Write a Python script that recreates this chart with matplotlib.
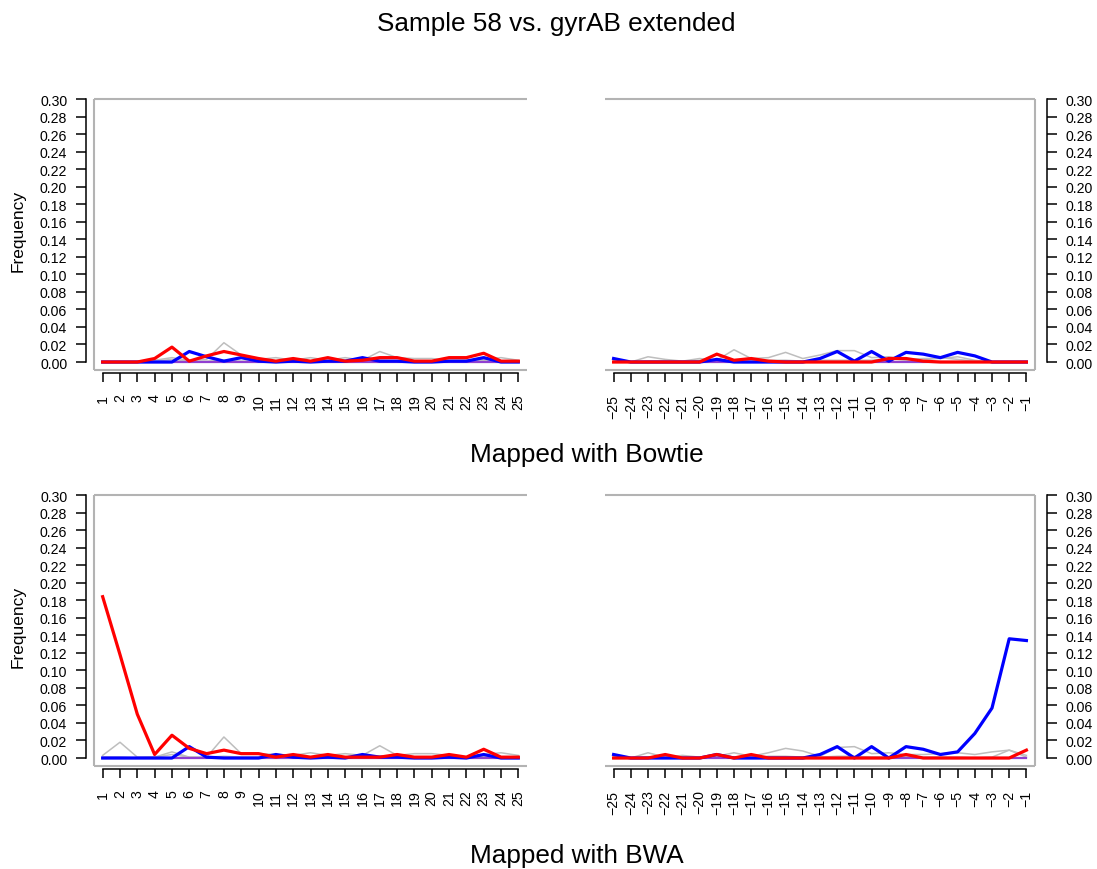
import numpy as np
import matplotlib
matplotlib.use('Agg')
import matplotlib.pyplot as plt

plt.rcParams['font.family'] = ['Liberation Sans', 'DejaVu Sans']

# vi tri doc (5' va 3')
pos_5p = list(range(1, 26))
pos_3p = list(range(-25, 0))
nhan_5p = [str(i) for i in pos_5p]
nhan_3p = ['\u2212' + str(-i) for i in pos_3p]

# Bowtie - dau 5'
bt5_ct = [0, 0, 0, 0.004, 0.017, 0.001, 0.007, 0.012, 0.008, 0.004, 0.001, 0.004, 0.001,
          0.005, 0.001, 0.002, 0.005, 0.005, 0.001, 0.001, 0.005, 0.005, 0.010, 0.001, 0.001]
bt5_ga = [0, 0, 0, 0, 0, 0.012, 0.006, 0.001, 0.005, 0.001, 0, 0.001, 0,
          0.001, 0.001, 0.005, 0.001, 0.001, 0, 0, 0.001, 0.001, 0.005, 0, 0]
bt5_khac1 = [0, 0, 0, 0.002, 0.005, 0.002, 0.003, 0.022, 0.008, 0.003, 0.005, 0.002, 0.005,
             0.002, 0.005, 0.002, 0.012, 0.005, 0.004, 0.004, 0.002, 0.002, 0.003, 0.005, 0.002]
bt5_khac2 = [0, 0, 0, 0.001, 0.003, 0.001, 0.001, 0.002, 0.001, 0.001, 0.001, 0.001, 0.001,
             0.001, 0.001, 0.001, 0.002, 0.001, 0.001, 0.001, 0.001, 0.001, 0.002, 0.001, 0.001]
bt5_indel = [0] * 25

# Bowtie - dau 3'
bt3_ct = [0, 0, 0, 0, 0, 0, 0.009, 0.002, 0.004, 0.001, 0, 0, 0,
          0, 0, 0, 0.004, 0.004, 0.001, 0, 0, 0, 0, 0, 0]
bt3_ga = [0.004, 0, 0, 0, 0, 0, 0.003, 0, 0, 0, 0, 0, 0.004,
          0.012, 0.001, 0.012, 0.001, 0.011, 0.009, 0.005, 0.011, 0.007, 0, 0, 0]
bt3_khac1 = [0.002, 0, 0.006, 0.003, 0.001, 0.004, 0.002, 0.014, 0.004, 0.005, 0.011, 0.004, 0.008,
             0.013, 0.013, 0.005, 0.006, 0.003, 0.004, 0.004, 0.006, 0.002, 0, 0, 0]
bt3_khac2 = [0.001, 0, 0.001, 0.001, 0, 0.002, 0.001, 0.002, 0.001, 0.002, 0.002, 0.001, 0.002,
             0.002, 0.002, 0.002, 0.004, 0.002, 0.002, 0.005, 0.003, 0.001, 0, 0, 0]
bt3_indel = [0] * 25

# BWA - dau 5'
bwa5_ct = [0.184, 0.118, 0.050, 0.004, 0.026, 0.011, 0.005, 0.009, 0.005, 0.005, 0.001, 0.004, 0.001,
           0.004, 0.001, 0.001, 0.001, 0.004, 0.001, 0.001, 0.004, 0.001, 0.010, 0.001, 0.001]
bwa5_ga = [0, 0, 0, 0, 0, 0.013, 0.001, 0, 0, 0, 0.004, 0.001, 0,
           0.001, 0, 0.004, 0.001, 0.001, 0, 0, 0.001, 0, 0.004, 0, 0]
bwa5_khac1 = [0.003, 0.018, 0.001, 0.001, 0.007, 0.001, 0.001, 0.024, 0.005, 0.005, 0.004, 0.003, 0.006,
              0.003, 0.005, 0.003, 0.014, 0.003, 0.005, 0.005, 0.003, 0.001, 0.004, 0.006, 0.003]
bwa5_khac2 = [0.001, 0.001, 0, 0.001, 0.004, 0.001, 0.001, 0.002, 0.001, 0.001, 0.001, 0.001, 0.001,
              0.001, 0.001, 0.001, 0.002, 0.001, 0.001, 0.001, 0.001, 0.001, 0.002, 0.001, 0.001]
bwa5_indel = [0] * 25

# BWA - dau 3'
bwa3_ct = [0, 0, 0, 0.004, 0, 0, 0.004, 0, 0.004, 0, 0, 0, 0,
           0, 0, 0, 0, 0.004, 0, 0, 0, 0, 0, 0, 0.009]
bwa3_ga = [0.004, 0, 0, 0, 0, 0, 0.004, 0, 0, 0, 0, 0, 0.004,
           0.013, 0, 0.013, 0, 0.013, 0.010, 0.004, 0.007, 0.028, 0.057, 0.136, 0.134]
bwa3_khac1 = [0.002, 0, 0.006, 0.001, 0.003, 0.001, 0.002, 0.006, 0.002, 0.006, 0.011, 0.008, 0.002,
              0.012, 0.013, 0.005, 0.006, 0.004, 0.004, 0.005, 0.006, 0.004, 0.007, 0.009, 0.003]
bwa3_khac2 = [0.001, 0, 0.001, 0, 0.001, 0, 0.001, 0.001, 0.001, 0.002, 0.002, 0.001, 0.001,
              0.002, 0.002, 0.001, 0.001, 0.002, 0.001, 0.001, 0.001, 0, 0.001, 0.009, 0.001]
bwa3_indel = [0] * 25

W, H = 1097, 870
fig = plt.figure(figsize=(W / 100, H / 100), dpi=100)

mau_khung = '#b3b3b3'
mau_xam = '#bebebe'


def ve_panel(rect, x, nhan, ct, ga, khac1, khac2, indel, ben):
    ax = fig.add_axes(rect)
    ax.plot(x, khac1, color=mau_xam, lw=1.1)
    ax.plot(x, khac2, color=mau_xam, lw=1.1)
    ax.plot(x, indel, color='#9040d0', lw=1.6)
    ax.plot(x, ga, color='#0000ff', lw=2.3)
    ax.plot(x, ct, color='#ff0000', lw=2.3)
    ax.set_xlim(min(x) - 0.5, max(x) + 0.5)
    ax.set_ylim(-0.0091, 0.30)

    # khung xam, mo mot ben
    kw = dict(transform=ax.transAxes, color=mau_khung, lw=1.5, clip_on=False,
              solid_capstyle='butt')
    ax.plot([0, 1], [1, 1], **kw)
    ax.plot([0, 1], [0, 0], **kw)
    if ben == 'left':
        ax.plot([0, 0], [0, 1], **kw)
    else:
        ax.plot([1, 1], [0, 1], **kw)

    for s in ax.spines.values():
        s.set_visible(False)
    ax.spines['bottom'].set_visible(True)
    ax.spines['bottom'].set_position(('outward', 2.5))
    ax.spines['bottom'].set_bounds(min(x), max(x))
    ax.spines[ben].set_visible(True)
    ax.spines[ben].set_position(('outward', 5.8 if ben == 'left' else 8.6))
    ax.spines[ben].set_bounds(0, 0.30)
    for s in ('bottom', ben):
        ax.spines[s].set_linewidth(1.1)
        ax.spines[s].set_color('black')

    if ben == 'right':
        ax.yaxis.tick_right()
    ax.set_yticks(np.arange(0, 0.301, 0.02))
    ax.set_yticklabels(['%.2f' % v for v in np.arange(0, 0.301, 0.02)])
    ax.set_xticks(x)
    ax.set_xticklabels(nhan, rotation=90)
    ax.tick_params(axis='y', length=7, width=1.1, pad=6.5, labelsize=10.2)
    ax.tick_params(axis='x', length=6.5, width=1.1, pad=8, labelsize=10.2)
    return ax


h = 271 / H
ve_panel([94 / W, 1 - 371 / H, 433 / W, h], pos_5p, nhan_5p,
         bt5_ct, bt5_ga, bt5_khac1, bt5_khac2, bt5_indel, 'left')
ve_panel([605 / W, 1 - 371 / H, 430 / W, h], pos_3p, nhan_3p,
         bt3_ct, bt3_ga, bt3_khac1, bt3_khac2, bt3_indel, 'right')
ve_panel([94 / W, 1 - 767 / H, 433 / W, h], pos_5p, nhan_5p,
         bwa5_ct, bwa5_ga, bwa5_khac1, bwa5_khac2, bwa5_indel, 'left')
ve_panel([605 / W, 1 - 767 / H, 430 / W, h], pos_3p, nhan_3p,
         bwa3_ct, bwa3_ga, bwa3_khac1, bwa3_khac2, bwa3_indel, 'right')

fig.text(18 / W, 1 - 231 / H, 'Frequency', rotation=90, ha='center', va='center', fontsize=12.5)
fig.text(18 / W, 1 - 627 / H, 'Frequency', rotation=90, ha='center', va='center', fontsize=12.5)

fig.text(556 / W, 1 - 24 / H, 'Sample 58 vs. gyrAB extended', ha='center', va='center', fontsize=18.8)
fig.text(470 / W, 1 - 455 / H, 'Mapped with Bowtie', ha='left', va='center', fontsize=18.8)
fig.text(470 / W, 1 - 856 / H, 'Mapped with BWA', ha='left', va='center', fontsize=18.8)

fig.savefig('out.png', dpi=100)
